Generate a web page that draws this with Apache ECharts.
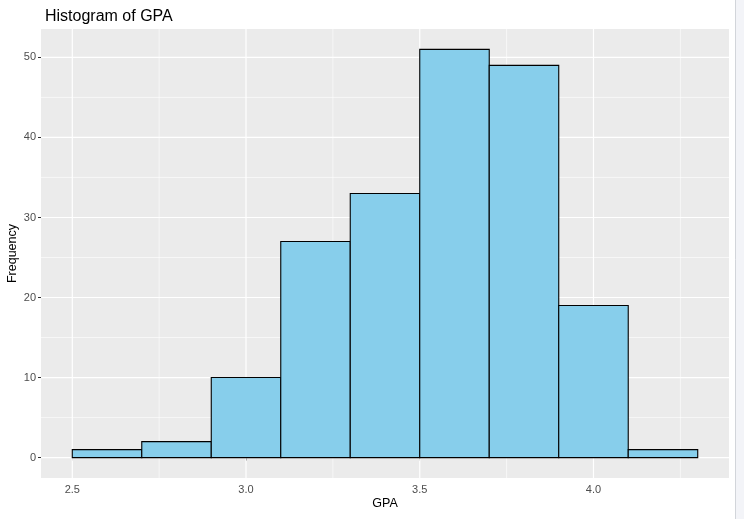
<!DOCTYPE html>
<html>
<head>
<meta charset="utf-8">
<script src="https://cdn.jsdelivr.net/npm/echarts@6/dist/echarts.min.js"></script>
<style>
  html, body { margin: 0; padding: 0; background: #ffffff; }
  #chart { width: 744px; height: 519px; }
</style>
</head>
<body>
<div id="chart"></div>
<script>
// Data
const binStart = [2.5, 2.7, 2.9, 3.1, 3.3, 3.5, 3.7, 3.9, 4.1];
const binEnd   = [2.7, 2.9, 3.1, 3.3, 3.5, 3.7, 3.9, 4.1, 4.3];
const counts   = [1, 2, 10, 27, 33, 51, 49, 19, 1];
const xTicks = [2.5, 3.0, 3.5, 4.0];
const xMinor = [2.75, 3.25, 3.75, 4.25];
const yTicks = [0, 10, 20, 30, 40, 50];
const yMinor = [5, 15, 25, 35, 45];

const xMin = 2.41, xMax = 4.39;
const yMin = -2.55, yMax = 53.55;

const chart = echarts.init(document.getElementById('chart'), null, { renderer: 'canvas' });

const barData = binStart.map((s, i) => [s, binEnd[i], counts[i]]);

function gridLineSeries(values, dir, width) {
  return {
    type: 'custom',
    silent: true,
    z: 1,
    data: values.map(v => [v]),
    renderItem: function (params, api) {
      const v = api.value(0);
      const cs = params.coordSys;
      let shape;
      if (dir === 'x') {
        const p = api.coord([v, 0]);
        shape = { x1: p[0], y1: cs.y, x2: p[0], y2: cs.y + cs.height };
      } else {
        const p = api.coord([xMin, v]);
        shape = { x1: cs.x, y1: p[1], x2: cs.x + cs.width, y2: p[1] };
      }
      return { type: 'line', shape: shape, style: { stroke: '#ffffff', lineWidth: width } };
    }
  };
}

const option = {
  animation: false,
  backgroundColor: '#ffffff',
  title: {
    text: 'Histogram of GPA',
    left: 40, top: 4,
    textStyle: { fontFamily: 'Liberation Sans, Arial, sans-serif', fontSize: 16, fontWeight: 'normal', color: '#000000' }
  },
  grid: { left: 41, right: 15, top: 29, bottom: 41, show: true, backgroundColor: '#EBEBEB', borderWidth: 0, containLabel: false, outerBoundsMode: 'none' },
  xAxis: {
    type: 'value', min: xMin, max: xMax,
    name: 'GPA', nameLocation: 'middle', nameGap: 19, nameMoveOverlap: false,
    nameTextStyle: { fontFamily: 'Liberation Sans, Arial, sans-serif', fontSize: 12.5, color: '#000000', verticalAlign: 'top' },
    axisLine: { show: false },
    splitLine: { show: false },
    axisTick: { show: true, customValues: xTicks, length: 3, lineStyle: { color: '#333333', width: 1 } },
    axisLabel: { customValues: xTicks, formatter: v => v.toFixed(1), fontFamily: 'Liberation Sans, Arial, sans-serif', fontSize: 11, color: '#4D4D4D', margin: 6 }
  },
  yAxis: {
    type: 'value', min: yMin, max: yMax,
    name: 'Frequency', nameLocation: 'middle', nameGap: 22, nameRotate: 90, nameMoveOverlap: false,
    nameTextStyle: { fontFamily: 'Liberation Sans, Arial, sans-serif', fontSize: 12.5, color: '#000000' },
    axisLine: { show: false },
    splitLine: { show: false },
    axisTick: { show: true, customValues: yTicks, length: 3, lineStyle: { color: '#333333', width: 1 } },
    axisLabel: { customValues: yTicks, fontFamily: 'Liberation Sans, Arial, sans-serif', fontSize: 11, color: '#4D4D4D', margin: 5 }
  },
  graphic: [
    { type: 'rect', shape: { x: 735, y: 0, width: 9, height: 519 }, style: { fill: '#F3F4F8' }, z: 100 },
    { type: 'line', shape: { x1: 735.5, y1: 0, x2: 735.5, y2: 519 }, style: { stroke: '#D2D5DA', lineWidth: 1 }, z: 101 }
  ],
  series: [
    gridLineSeries(xMinor, 'x', 0.6),
    gridLineSeries(yMinor, 'y', 0.6),
    gridLineSeries(xTicks, 'x', 1.2),
    gridLineSeries(yTicks, 'y', 1.2),
    {
      type: 'custom',
      z: 5,
      data: barData,
      renderItem: function (params, api) {
        const p0 = api.coord([api.value(0), 0]);
        const p1 = api.coord([api.value(1), api.value(2)]);
        return {
          type: 'rect',
          shape: { x: p0[0], y: p1[1], width: p1[0] - p0[0], height: p0[1] - p1[1] },
          style: { fill: '#87CEEB', stroke: '#000000', lineWidth: 1.1 }
        };
      }
    }
  ]
};
chart.setOption(option);
</script>
</body>
</html>
